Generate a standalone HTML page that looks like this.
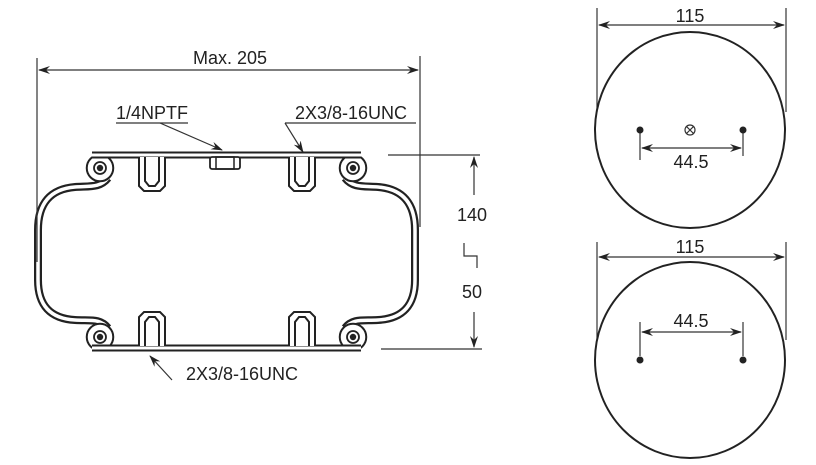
<!DOCTYPE html>
<html><head><meta charset="utf-8"><style>body{margin:0;background:#fff}svg{display:block}text{font-family:"Liberation Sans",sans-serif;fill:#222}</style></head><body>
<svg width="816" height="465" viewBox="0 0 816 465" xmlns="http://www.w3.org/2000/svg">
<defs>
<marker id="a" markerWidth="12" markerHeight="8" refX="11" refY="4" orient="auto-start-reverse" markerUnits="userSpaceOnUse"><path d="M0,0 L12,4 L0,8 L4,4Z" fill="#222"/></marker>
<g id="half">
<path d="M108,178 C 100,188 90,186 75,187 Q 38,190 38,230 L 38,280 Q 38,318 75,320 C 90,321 100,318 108,328" fill="none" stroke="#222" stroke-width="8"/>
<path d="M108,178 C 100,188 90,186 75,187 Q 38,190 38,230 L 38,280 Q 38,318 75,320 C 90,321 100,318 108,328" fill="none" stroke="#fff" stroke-width="3.5"/>
<circle cx="100" cy="168" r="11" fill="none" stroke="#222" stroke-width="6.5"/><circle cx="100" cy="168" r="11" fill="#fff" stroke="#fff" stroke-width="2.5"/>
<circle cx="100" cy="168" r="6" fill="none" stroke="#222" stroke-width="1.8"/><circle cx="100" cy="168" r="3.2" fill="#222"/>
<circle cx="100" cy="337" r="11" fill="none" stroke="#222" stroke-width="6.5"/><circle cx="100" cy="337" r="11" fill="#fff" stroke="#fff" stroke-width="2.5"/>
<circle cx="100" cy="337" r="6" fill="none" stroke="#222" stroke-width="1.8"/><circle cx="100" cy="337" r="3.2" fill="#222"/>
</g>
<g id="bolt" fill="#fff" stroke="#222" stroke-width="2">
<path d="M-13,0 L-13,29 L-8,34 L8,34 L13,29 L13,0"/>
<path d="M-7,0 L-7,24 L-3,29 L3,29 L7,24 L7,0"/>
</g>
</defs>
<use href="#half"/>
<use href="#half" transform="translate(453,0) scale(-1,1)"/>
<g stroke="#222" fill="none">
<line x1="92" y1="155" x2="361" y2="155" stroke-width="7"/><line x1="92" y1="155" x2="361" y2="155" stroke="#fff" stroke-width="3"/>
<line x1="92" y1="348" x2="361" y2="348" stroke-width="7"/><line x1="92" y1="348" x2="361" y2="348" stroke="#fff" stroke-width="3"/>
</g>
<use href="#bolt" transform="translate(152,157)"/>
<use href="#bolt" transform="translate(302,157)"/>
<use href="#bolt" transform="translate(152,346) scale(1,-1)"/>
<use href="#bolt" transform="translate(302,346) scale(1,-1)"/>
<rect x="210" y="157" width="30" height="12" rx="2" fill="#fff" stroke="#222" stroke-width="1.8"/>
<rect x="216" y="157" width="18" height="12" fill="none" stroke="#222" stroke-width="1.5"/>
<g stroke="#333" stroke-width="1.2" fill="none">
<line x1="37" y1="58" x2="37" y2="262"/><line x1="420" y1="56" x2="420" y2="227"/>
<line x1="39" y1="70" x2="418" y2="70" marker-start="url(#a)" marker-end="url(#a)"/>
<line x1="116" y1="123" x2="188" y2="123"/><line x1="160" y1="123" x2="222" y2="150" marker-end="url(#a)"/>
<line x1="285" y1="123" x2="416" y2="123"/><line x1="285" y1="123" x2="303" y2="152" marker-end="url(#a)"/>
<line x1="172" y1="380" x2="150" y2="356" marker-end="url(#a)"/>
<line x1="388" y1="155" x2="480" y2="155"/><line x1="381" y1="349" x2="482" y2="349"/>
<line x1="474" y1="195" x2="474" y2="157" marker-end="url(#a)"/>
<line x1="474" y1="312" x2="474" y2="347" marker-end="url(#a)"/>
<path d="M464,243 L464,256 L477,256 L477,268"/>
<line x1="597" y1="8" x2="597" y2="112"/><line x1="786" y1="8" x2="786" y2="112"/>
<line x1="599" y1="25" x2="784" y2="25" marker-start="url(#a)" marker-end="url(#a)"/>
<line x1="597" y1="242" x2="597" y2="340"/><line x1="786" y1="242" x2="786" y2="340"/>
<line x1="599" y1="257" x2="784" y2="257" marker-start="url(#a)" marker-end="url(#a)"/>
<line x1="640" y1="132" x2="640" y2="160"/><line x1="743" y1="132" x2="743" y2="156"/>
<line x1="642" y1="148" x2="741" y2="148" marker-start="url(#a)" marker-end="url(#a)"/>
<line x1="640" y1="322" x2="640" y2="356"/><line x1="743" y1="322" x2="743" y2="356"/>
<line x1="642" y1="332" x2="741" y2="332" marker-start="url(#a)" marker-end="url(#a)"/>
</g>
<g fill="none" stroke="#222" stroke-width="2">
<ellipse cx="690" cy="130" rx="95" ry="98"/>
<ellipse cx="690" cy="360" rx="95" ry="98"/>
</g>
<g fill="#222"><circle cx="640" cy="130" r="3.5"/><circle cx="743" cy="130" r="3.5"/><circle cx="640" cy="360" r="3.5"/><circle cx="743" cy="360" r="3.5"/></g>
<g stroke="#333" stroke-width="1.2" fill="none"><circle cx="690" cy="130" r="5"/><path d="M686.5,126.5 L693.5,133.5 M693.5,126.5 L686.5,133.5"/></g>
<g font-size="18">
<text x="230" y="64" text-anchor="middle">Max. 205</text>
<text x="152" y="119" text-anchor="middle">1/4NPTF</text>
<text x="351" y="119" text-anchor="middle">2X3/8-16UNC</text>
<text x="242" y="380" text-anchor="middle">2X3/8-16UNC</text>
<text x="472" y="221" text-anchor="middle">140</text>
<text x="472" y="298" text-anchor="middle">50</text>
<text x="690" y="22" text-anchor="middle">115</text>
<text x="690" y="253" text-anchor="middle">115</text>
<text x="691" y="168" text-anchor="middle">44.5</text>
<text x="691" y="327" text-anchor="middle">44.5</text>
</g>
</svg>
</body></html>
